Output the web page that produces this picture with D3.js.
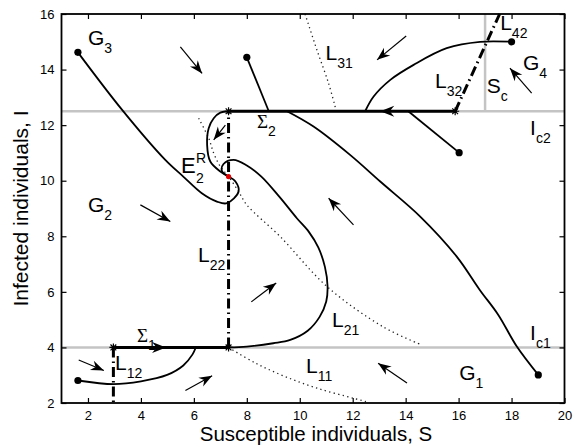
<!DOCTYPE html>
<html lang="en">
<head>
    <meta charset="UTF-8">
    <title>SIR phase portrait</title>
    <script src="https://d3js.org/d3.v7.min.js"></script>
    <style>
        body { margin: 0; background: #fff; }
        text { font-family: "Liberation Sans", Arial, Helvetica, sans-serif; }
    </style>
</head>
<body>
    <svg width="580" height="447"></svg>
    <script>
        // axis ticks
        const xTicks = [2, 4, 6, 8, 10, 12, 14, 16, 18, 20];
        const yTicks = [2, 4, 6, 8, 10, 12, 14, 16];

        // thresholds
        const Ic1 = 4, Ic2 = 12.5, Sc = 17;

        // sliding segments
        const sigma1 = [[2.96, 4], [7.31, 4]];
        const sigma2 = [[7.31, 12.5], [15.87, 12.5]];

        // dash-dot lines
        const L22 = [[7.31, 4], [7.31, 12.5]];
        const L12 = [[2.96, 4], [2.96, 2]];
        const L32 = [[15.87, 12.5], [17.55, 16]];

        // dotted curves
        const L31 = [[10.2, 16], [10.65, 14.7], [11.09, 13.5], [11.34, 12.65]];
        const L21 = [[6.18, 12.25], [6.56, 11.53], [6.75, 10.99], [7.0, 10.51], [7.31, 10.15],
                     [7.69, 9.61], [8.0, 9.13], [9.26, 7.99], [11.03, 6.19], [13.15, 4.74], [14.61, 4.09]];
        const L11 = [[7.31, 4], [8.3, 3.45], [9.45, 2.95], [10.7, 2.52], [12.03, 2.17], [12.5, 2.05]];

        // trajectories
        const trajG3 = [[1.62, 14.62], [3.29, 12.55], [4.92, 10.75], [5.6, 10.15], [6.3, 9.55], [6.87, 9.25],
                        [7.25, 9.19], [7.69, 9.61], [7.57, 9.97], [7.31, 10.15]];
        const trajTop = [[8.0, 14.44], [8.83, 12.5]];
        const trajLoop = [[7.31, 12.5], [7.0, 12.45], [6.75, 12.25], [6.56, 11.89], [6.5, 11.29],
                          [6.62, 10.69], [7.0, 10.33], [7.31, 10.15]];
        const trajRight = [[16.02, 11.01], [14.1, 12.5]];
        const trajG1 = [[19.01, 3.01], [18.2, 4.03], [17.5, 5.17], [16.8, 6.07], [15.93, 7.27], [14.55, 8.71],
                        [13.04, 9.97], [11.9, 10.93], [10.52, 11.95], [9.52, 12.5]];
        const trajG4 = [[18.0, 15.0], [16.81, 15.0], [15.55, 14.77], [14.3, 14.17], [13.42, 13.63],
                        [12.79, 13.03], [12.47, 12.5]];
        const trajBig = [[7.31, 4.0], [8.0, 4.03], [9.0, 4.15], [9.64, 4.27], [10.3, 4.6], [10.75, 5.1],
                         [11.0, 5.65], [11.05, 6.2], [10.95, 6.9], [10.7, 7.6], [10.35, 8.15], [9.89, 8.65],
                         [9.25, 9.4], [8.55, 10.15], [8.0, 10.55], [7.5, 10.75], [7.12, 10.6], [7.06, 10.35],
                         [7.31, 10.15]];
        const trajLow = [[1.62, 2.81], [2.97, 2.68], [4.0, 2.78], [4.99, 3.01], [5.6, 3.35], [5.95, 3.75], [6.06, 3.97]];

        const startDots = [[1.62, 14.62], [8.0, 14.44], [16.02, 11.01], [18.0, 15.0], [19.01, 3.01], [1.62, 2.81]];
        const stars = [[2.96, 4], [7.31, 4], [7.31, 12.5], [15.87, 12.5]];
        const equilibrium = [7.31, 10.15];

        // direction arrows [from, to]
        const arrows = [
            [[5.49, 14.82], [6.31, 13.86]],
            [[14.02, 15.21], [12.92, 14.35]],
            [[18.76, 13.15], [17.94, 14.05]],
            [[3.98, 9.13], [5.11, 8.53]],
            [[12.03, 8.41], [11.09, 9.37]],
            [[8.17, 5.64], [9.11, 6.32]],
            [[5.68, 2.45], [6.69, 2.98]],
            [[14.05, 2.72], [12.96, 3.43]],
            [[1.65, 3.55], [2.6, 3.17]],
            [[7.19, 12.0], [6.75, 11.47]]
        ];
        const lineArrows = [
            [[4.3, 4], [4.95, 4]],
            [[13.7, 12.5], [13.04, 12.5]]
        ];

        // labels: main text, subscript, anchor (S, I)
        const labels = [
            ["G", "3", 2.0, 14.88], ["G", "2", 2.0, 8.875], ["G", "4", 18.43, 13.98], ["G", "1", 16.02, 2.83],
            ["L", "31", 10.97, 14.34], ["L", "32", 15.11, 13.34], ["L", "42", 17.57, 15.42],
            ["S", "c", 17.06, 13.16], ["I", "c2", 18.7, 11.65], ["I", "c1", 18.7, 4.27],
            ["L", "22", 6.16, 7.08], ["L", "21", 11.22, 4.74], ["L", "11", 10.24, 3.08], ["L", "12", 3.02, 3.19]
        ];
        const sigmaLabels = [["2", 8.38, 11.9], ["1", 3.85, 4.2]];

        const svg = d3.select('svg');
        const xScale = d3.scaleLinear().domain([1, 20]).range([61.5, 564.5]);
        const yScale = d3.scaleLinear().domain([2, 16]).range([403, 14]);

        const line = d3.line().x(d => xScale(d[0])).y(d => yScale(d[1]));
        const curve = d3.line().x(d => xScale(d[0])).y(d => yScale(d[1])).curve(d3.curveCatmullRom.alpha(0.5));

        const plot = svg.append('g');

        // gray threshold lines
        const gray = '#c4c4c4';
        plot.append('path').attr('d', line([[1, Ic1], [20, Ic1]])).attr('stroke', gray).attr('stroke-width', 2.5).attr('fill', 'none');
        plot.append('path').attr('d', line([[1, Ic2], [20, Ic2]])).attr('stroke', gray).attr('stroke-width', 2.5).attr('fill', 'none');
        plot.append('path').attr('d', line([[Sc, Ic2], [Sc, 16]])).attr('stroke', gray).attr('stroke-width', 2.5).attr('fill', 'none');

        // dotted
        [L31, L21, L11].forEach(d => {
            plot.append('path').attr('d', curve(d))
                .attr('fill', 'none').attr('stroke', '#222').attr('stroke-width', 1.3)
                .attr('stroke-dasharray', '1.3 3.3');
        });

        // trajectories
        [trajG3, trajLoop, trajG1, trajG4, trajBig, trajLow].forEach(d => {
            plot.append('path').attr('d', curve(d))
                .attr('fill', 'none').attr('stroke', '#000').attr('stroke-width', 1.8);
        });
        [trajTop, trajRight].forEach(d => {
            plot.append('path').attr('d', line(d))
                .attr('fill', 'none').attr('stroke', '#000').attr('stroke-width', 1.8);
        });

        // sliding segments
        [sigma1, sigma2].forEach(d => {
            plot.append('path').attr('d', line(d))
                .attr('fill', 'none').attr('stroke', '#000').attr('stroke-width', 3);
        });

        // dash-dot lines
        [L22, L12, L32].forEach(d => {
            plot.append('path').attr('d', line(d))
                .attr('fill', 'none').attr('stroke', '#000').attr('stroke-width', 3)
                .attr('stroke-dasharray', '10 4 1.5 4');
        });

        // start points
        plot.selectAll('.dot').data(startDots).enter().append('circle')
            .attr('cx', d => xScale(d[0])).attr('cy', d => yScale(d[1])).attr('r', 3.6).attr('fill', '#000');

        // asterisks
        const star = d => {
            const cx = xScale(d[0]), cy = yScale(d[1]), r = 4, q = r * 0.72;
            return `M${cx - r},${cy}L${cx + r},${cy}M${cx},${cy - r}L${cx},${cy + r}` +
                   `M${cx - q},${cy - q}L${cx + q},${cy + q}M${cx - q},${cy + q}L${cx + q},${cy - q}`;
        };
        plot.selectAll('.star').data(stars).enter().append('path')
            .attr('d', star).attr('stroke', '#000').attr('stroke-width', 1.2).attr('fill', 'none');

        plot.append('circle').attr('cx', xScale(equilibrium[0])).attr('cy', yScale(equilibrium[1]))
            .attr('r', 2.6).attr('fill', '#e00000');

        // arrow heads
        const head = (p0, p1, len, hw, notch) => {
            const x0 = xScale(p0[0]), y0 = yScale(p0[1]), x1 = xScale(p1[0]), y1 = yScale(p1[1]);
            const a = Math.atan2(y1 - y0, x1 - x0), c = Math.cos(a), s = Math.sin(a);
            const bx = x1 - len * c, by = y1 - len * s;
            return `M${x1},${y1}L${bx - hw * s},${by + hw * c}L${x1 - (len - notch) * c},${y1 - (len - notch) * s}` +
                   `L${bx + hw * s},${by - hw * c}Z`;
        };
        arrows.forEach(([p0, p1]) => {
            plot.append('path').attr('d', line([p0, p1])).attr('stroke', '#000').attr('stroke-width', 1.2).attr('fill', 'none');
            plot.append('path').attr('d', head(p0, p1, 13, 5, 4)).attr('fill', '#000');
        });
        lineArrows.forEach(([p0, p1]) => {
            plot.append('path').attr('d', head(p0, p1, 14, 5.5, 4.5)).attr('fill', '#000');
        });

        // labels
        labels.forEach(([t, sub, s, i]) => {
            const tx = svg.append('text').attr('x', xScale(s)).attr('y', yScale(i))
                .attr('font-size', 21).attr('fill', '#000');
            tx.append('tspan').text(t);
            tx.append('tspan').attr('dy', 8).attr('font-size', 14).text(sub);
        });
        sigmaLabels.forEach(([sub, s, i]) => {
            const tx = svg.append('text').attr('x', xScale(s)).attr('y', yScale(i)).attr('fill', '#000');
            tx.append('tspan').attr('font-size', 19).attr('font-family', 'Liberation Serif, serif').text('Σ');
            tx.append('tspan').attr('dy', 8).attr('font-size', 14).text(sub);
        });
        // E_2^R
        const ex = xScale(5.51), ey = yScale(10.28);
        svg.append('text').attr('x', ex).attr('y', ey).attr('font-size', 22).text('E');
        svg.append('text').attr('x', ex + 15).attr('y', ey - 10).attr('font-size', 14).text('R');
        svg.append('text').attr('x', ex + 15).attr('y', ey + 10).attr('font-size', 14).text('2');

        // axes box
        const xAxisB = d3.axisBottom(xScale).tickValues(xTicks).tickSize(-5).tickPadding(8).tickSizeOuter(0);
        const xAxisT = d3.axisTop(xScale).tickValues(xTicks).tickSize(-5).tickFormat('').tickSizeOuter(0);
        const yAxisL = d3.axisLeft(yScale).tickValues(yTicks).tickSize(-5).tickPadding(7).tickSizeOuter(0);
        const yAxisR = d3.axisRight(yScale).tickValues(yTicks).tickSize(-5).tickFormat('').tickSizeOuter(0);

        const gB = svg.append('g').attr('transform', 'translate(0,403)').call(xAxisB);
        const gT = svg.append('g').attr('transform', 'translate(0,14)').call(xAxisT);
        const gL = svg.append('g').attr('transform', 'translate(61.5,0)').call(yAxisL);
        const gR = svg.append('g').attr('transform', 'translate(564.5,0)').call(yAxisR);
        [gB, gT, gL, gR].forEach(g => {
            g.select('.domain').remove();
            g.selectAll('line').attr('stroke', '#000').attr('stroke-width', 1.2);
            g.selectAll('text').attr('font-size', 13).attr('fill', '#000')
                .attr('font-family', '"Liberation Sans", Arial, sans-serif');
        });
        svg.append('rect').attr('x', 61.5).attr('y', 14).attr('width', 503).attr('height', 389)
            .attr('fill', 'none').attr('stroke', '#000').attr('stroke-width', 1.8);

        // axis titles
        svg.append('text').attr('x', (61.5 + 564.5) / 2 + 3).attr('y', 441).attr('text-anchor', 'middle')
            .attr('font-size', 20.5).text('Susceptible individuals, S');
        svg.append('text').attr('transform', `translate(28,${(14 + 403) / 2}) rotate(-90)`)
            .attr('text-anchor', 'middle').attr('font-size', 21).text('Infected individuals, I');
    </script>
</body>
</html>
